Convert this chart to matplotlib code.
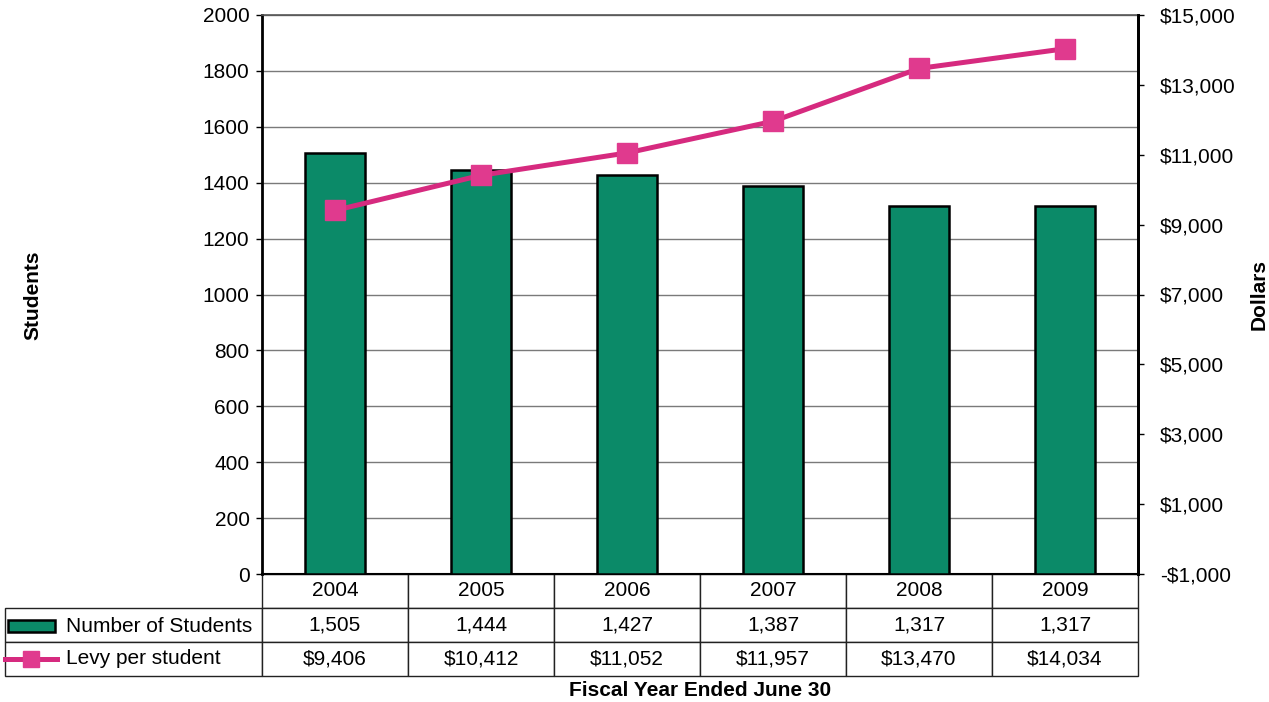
import matplotlib.pyplot as plt
from matplotlib.patches import Rectangle
from matplotlib.lines import Line2D

years = ["2004", "2005", "2006", "2007", "2008", "2009"]
students = [1505, 1444, 1427, 1387, 1317, 1317]
levy = [9406, 10412, 11052, 11957, 13470, 14034]

bar_color = "#0b8a68"
line_color = "#d62a7f"
marker_color = "#e03a8e"

plt.rcParams["font.family"] = ["Liberation Sans", "DejaVu Sans"]
fs = 15

W, H = 1269, 702
fig = plt.figure(figsize=(W / 100, H / 100), dpi=100)

# plot area in pixels
x0, x1, y0, y1 = 262, 1138, 15, 574
ax = fig.add_axes([x0 / W, 1 - y1 / H, (x1 - x0) / W, (y1 - y0) / H])

x = list(range(len(years)))
ax.bar(x, students, width=0.41, color=bar_color, edgecolor="black", linewidth=1.8, zorder=3)
ax.set_xlim(-0.5, len(years) - 0.5)
ax.set_ylim(0, 2000)
ax.set_yticks(range(0, 2001, 200))
ax.set_xticks([])
ax.grid(axis="y", color="#7a7a7a", linewidth=1.0, zorder=0)
ax.tick_params(axis="y", labelsize=fs, length=4, width=1, pad=5)
for side in ["left", "right"]:
    ax.spines[side].set_linewidth(2)
ax.spines["top"].set_color("#555555")
ax.spines["top"].set_linewidth(1.2)
ax.spines["bottom"].set_linewidth(1.5)

ax2 = ax.twinx()
ax2.plot(x, levy, color=line_color, linewidth=3.6, marker="s", markersize=15,
         markerfacecolor=marker_color, markeredgecolor=marker_color, zorder=5)
ax2.set_ylim(-1000, 15000)
ax2.set_yticks(range(-1000, 15001, 2000))
ax2.set_yticklabels([("-$" if v < 0 else "$") + f"{abs(v):,}" for v in range(-1000, 15001, 2000)])
ax2.tick_params(axis="y", labelsize=fs, length=4, width=1, pad=12)
ax2.spines["right"].set_linewidth(2)
ax2.spines["left"].set_visible(False)
ax2.spines["top"].set_visible(False)
ax2.spines["bottom"].set_visible(False)

# axis titles
fig.text(33 / W, 1 - 295 / H, "Students", fontsize=fs, fontweight="bold", rotation=90,
         ha="center", va="center")
fig.text(1259 / W, 1 - 295 / H, "Dollars", fontsize=fs, fontweight="bold", rotation=90,
         ha="center", va="center")

# data table under the plot
label_left = 5
t_bottom = 676
cell_text = [[""] + years,
             [""] + [f"{v:,}" for v in students],
             [""] + [f"${v:,}" for v in levy]]
col_w = [(x0 - label_left)] + [(x1 - x0) / len(years)] * len(years)
tot = sum(col_w)
tbl = ax.table(cellText=cell_text, colWidths=[c / tot for c in col_w], cellLoc="center",
               bbox=[(label_left - x0) / (x1 - x0), -(t_bottom - y1) / (y1 - y0),
                     (x1 - label_left) / (x1 - x0), (t_bottom - y1) / (y1 - y0)])
tbl.auto_set_font_size(False)
tbl.set_fontsize(fs)
for (r, c), cell in tbl.get_celld().items():
    cell.set_edgecolor("#222222")
    cell.set_linewidth(1.0)
    if r == 0 and c == 0:
        cell.visible_edges = ""

# legend keys inside the row label cells
row1_y = 1 - 626 / H
row2_y = 1 - 659 / H
fig.patches.append(Rectangle((8 / W, row1_y - 6 / H), 47 / W, 12 / H, transform=fig.transFigure,
                             facecolor=bar_color, edgecolor="black", linewidth=1.8))
fig.lines.append(Line2D([5 / W, 57 / W], [row2_y, row2_y], transform=fig.transFigure,
                        color=line_color, linewidth=3.6))
fig.lines.append(Line2D([31 / W], [row2_y], transform=fig.transFigure, marker="s", markersize=11,
                        color=marker_color))
fig.text(66 / W, row1_y, "Number of Students", fontsize=fs, va="center", ha="left")
fig.text(66 / W, row2_y, "Levy per student", fontsize=fs, va="center", ha="left")

fig.text((x0 + x1) / 2 / W, 1 - 690 / H, "Fiscal Year Ended June 30", fontsize=fs,
         fontweight="bold", ha="center", va="center")

fig.savefig("out.png", dpi=100)
